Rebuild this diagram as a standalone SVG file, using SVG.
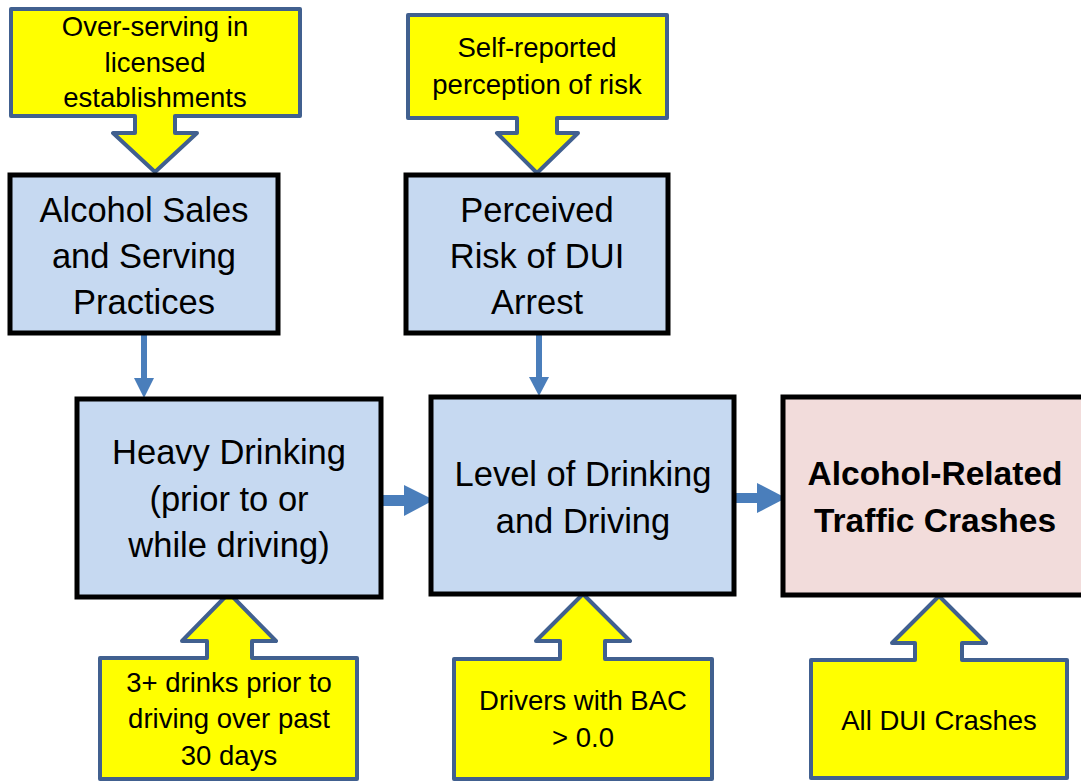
<svg xmlns="http://www.w3.org/2000/svg" width="1081" height="781" viewBox="0 0 1081 781">
  <style>
    .box { fill: #c6d9f1; stroke: #000; stroke-width: 5; }
    .outcome { fill: #f2dcdb; stroke: #000; stroke-width: 5; }
    .callout { fill: #ffff00; stroke: #41608f; stroke-width: 4; stroke-linejoin: round; }
    .main { font-family: "Liberation Sans", Arial, sans-serif; font-size: 34.5px; fill: #000; text-anchor: middle; }
    .bold { font-weight: bold; font-size: 33.5px; }
    .note { font-family: "Liberation Sans", Arial, sans-serif; font-size: 27.5px; fill: #000; text-anchor: middle; }
    .link { fill: #4a7ebb; }
  </style>

  <rect width="1081" height="781" fill="#fff"/>

  <!-- connectors -->
  <g id="connectors">
    <rect class="link" x="141" y="334" width="6" height="45"/>
    <polygon class="link" points="134,378 154,378 144,398"/>
    <rect class="link" x="536" y="334" width="6" height="44"/>
    <polygon class="link" points="529,377 549,377 539,396"/>
    <rect class="link" x="383" y="495" width="22" height="11"/>
    <polygon class="link" points="404,485 404,516 434,500"/>
    <rect class="link" x="736" y="493" width="22" height="10"/>
    <polygon class="link" points="757,483 757,513 786,498"/>
  </g>

  <!-- measure callouts -->
  <g id="note-overserving">
    <path class="callout" d="M11,9 H300 V116 H175 V133 H197 L155,172 L113,133 H135 V116 H11 Z"/>
    <text class="note" x="155" y="36">Over-serving in</text>
    <text class="note" x="155" y="72">licensed</text>
    <text class="note" x="155" y="107">establishments</text>
  </g>

  <g id="note-perception">
    <path class="callout" d="M408,15 H667 V118 H557 V133 H578 L537,173 L497,133 H517 V118 H408 Z"/>
    <text class="note" x="537" y="57">Self-reported</text>
    <text class="note" x="537" y="94">perception of risk</text>
  </g>

  <g id="note-drinks">
    <path class="callout" d="M100,658 H207 V641 H182 L229,593 L276,641 H252 V658 H357 V779 H100 Z"/>
    <text class="note" x="229" y="692">3+ drinks prior to</text>
    <text class="note" x="229" y="728">driving over past</text>
    <text class="note" x="229" y="765">30 days</text>
  </g>

  <g id="note-bac">
    <path class="callout" d="M454,659 H560 V641 H536 L583,594 L630,641 H605 V659 H712 V779 H454 Z"/>
    <text class="note" x="583" y="710">Drivers with BAC</text>
    <text class="note" x="583" y="747">&gt; 0.0</text>
  </g>

  <g id="note-crashes">
    <path class="callout" d="M811,660 H915 V643 H892 L939,596 L986,643 H962 V660 H1067 V778 H811 Z"/>
    <text class="note" x="939" y="730">All DUI Crashes</text>
  </g>

  <!-- model boxes -->
  <g id="alcohol-sales">
    <rect class="box" x="10" y="175" width="268" height="158"/>
    <text class="main" x="144" y="222">Alcohol Sales</text>
    <text class="main" x="144" y="268">and Serving</text>
    <text class="main" x="144" y="314">Practices</text>
  </g>

  <g id="perceived-risk">
    <rect class="box" x="406" y="175" width="262" height="158"/>
    <text class="main" x="537" y="222">Perceived</text>
    <text class="main" x="537" y="268">Risk of DUI</text>
    <text class="main" x="537" y="314">Arrest</text>
  </g>

  <g id="heavy-drinking">
    <rect class="box" x="77" y="399" width="304" height="198"/>
    <text class="main" x="229" y="464">Heavy Drinking</text>
    <text class="main" x="229" y="511">(prior to or</text>
    <text class="main" x="229" y="557">while driving)</text>
  </g>

  <g id="drinking-driving">
    <rect class="box" x="431" y="397" width="303" height="197"/>
    <text class="main" x="583" y="486">Level of Drinking</text>
    <text class="main" x="583" y="533">and Driving</text>
  </g>

  <g id="traffic-crashes">
    <rect class="outcome" x="783" y="397" width="310" height="198"/>
    <text class="main bold" x="935" y="485">Alcohol-Related</text>
    <text class="main bold" x="935" y="532">Traffic Crashes</text>
  </g>
</svg>
